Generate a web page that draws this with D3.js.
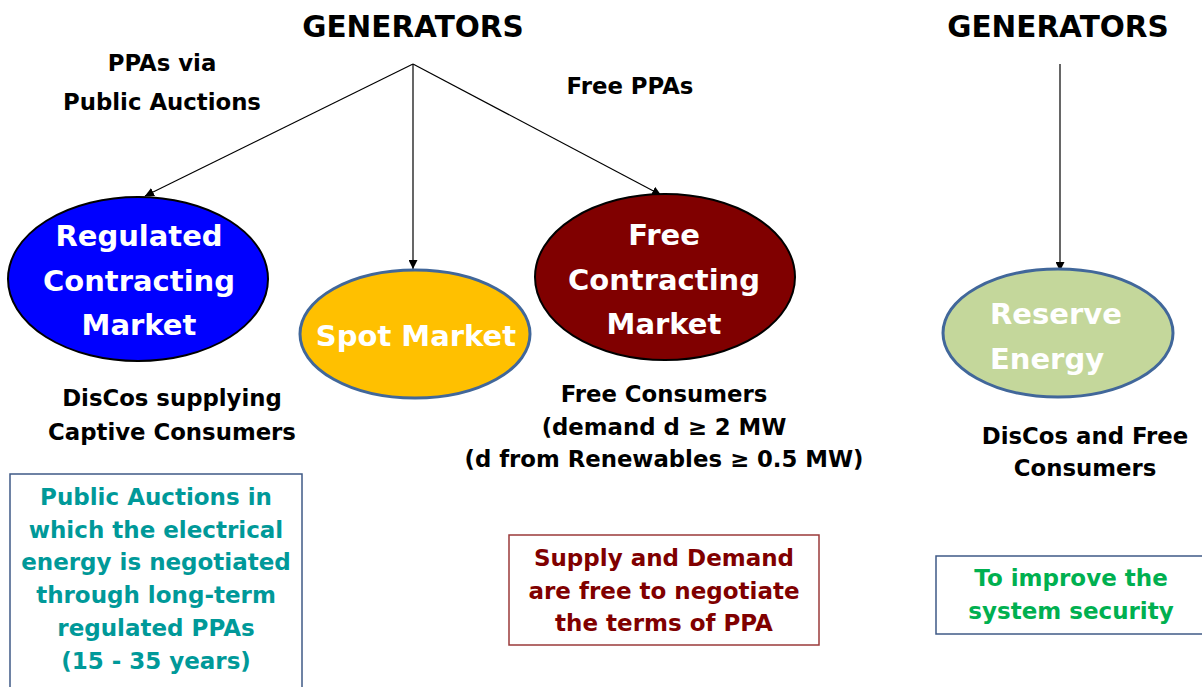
<!DOCTYPE html>
<html>
<head>
<meta charset="utf-8">
<script src="https://cdn.jsdelivr.net/npm/d3@7"></script>
<style>
  body { margin: 0; background: #fff; }
  text { font-family: "DejaVu Sans", Verdana, sans-serif; font-weight: bold; }
</style>
</head>
<body>
<div class="container"></div>
<script>
var w = 1202;
var h = 687;

// content
var headers = ["GENERATORS", "GENERATORS"];
var markets = [
  ["Regulated", "Contracting", "Market"],
  ["Spot Market"],
  ["Free", "Contracting", "Market"],
  ["Reserve", "Energy"]
];
var routes = [["PPAs via", "Public Auctions"], ["Free PPAs"]];
var buyers = [
  ["DisCos supplying", "Captive Consumers"],
  ["Free Consumers", "(demand d \u2265 2 MW", "(d from Renewables \u2265 0.5 MW)"],
  ["DisCos and Free", "Consumers"]
];
var notes = [
  ["Public Auctions in", "which the electrical", "energy is negotiated", "through long-term", "regulated PPAs", "(15 - 35 years)"],
  ["Supply and Demand", "are free to negotiate", "the terms of PPA"],
  ["To improve the", "system security"]
];

// layout
var headPos = [[413, 37], [1058, 37]];
var ell = [
  {cx: 138, cy: 279, rx: 130, ry: 82, fill: "#0000ff", stroke: "#000", sw: 2, ty: 246, tx: 139, anchor: "middle"},
  {cx: 415, cy: 334, rx: 115, ry: 64, fill: "#ffc000", stroke: "#41679a", sw: 3, ty: 346, tx: 416, anchor: "middle"},
  {cx: 665, cy: 277, rx: 130, ry: 83, fill: "#800000", stroke: "#000", sw: 2, ty: 245, tx: 664, anchor: "middle"},
  {cx: 1058, cy: 333, rx: 115, ry: 64, fill: "#c4d79b", stroke: "#41679a", sw: 3, ty: 324, tx: 990, anchor: "start"}
];
var arrows = [
  [413, 64, 145, 196], [413, 64, 413, 269], [413, 64, 661, 195], [1060, 64, 1060, 271]
];
var routePos = [[162, 71, 39], [630, 94, 39]];
var buyerPos = [[172, 406, 34], [664, 402, 32.5], [1085, 444, 32]];
var boxes = [
  {x: 10, y: 474, w: 292, h: 230, stroke: "#3f5a86", color: "#009999", tx: 156, ty: 505},
  {x: 509, y: 535, w: 310, h: 110, stroke: "#9a3a3a", color: "#800000", tx: 664, ty: 566},
  {x: 936, y: 556, w: 270, h: 78, stroke: "#3f5a86", color: "#00b050", tx: 1071, ty: 586}
];

var svg = d3.select(".container").append("svg")
  .attr("width", w).attr("height", h);

svg.append("defs").append("marker")
  .attr("id", "ah").attr("viewBox", "0 0 10 10")
  .attr("refX", 10).attr("refY", 5)
  .attr("markerWidth", 9).attr("markerHeight", 9)
  .attr("markerUnits", "userSpaceOnUse")
  .attr("orient", "auto")
  .append("path").attr("d", "M0,0L10,5L0,10z").attr("fill", "#000");

svg.selectAll("text.head").data(headers).enter().append("text")
  .attr("class", "head")
  .attr("x", (d, i) => headPos[i][0]).attr("y", (d, i) => headPos[i][1])
  .attr("text-anchor", "middle").attr("font-size", 29.5).attr("fill", "#000")
  .text(d => d);

svg.selectAll("line.arr").data(arrows).enter().append("line")
  .attr("x1", d => d[0]).attr("y1", d => d[1]).attr("x2", d => d[2]).attr("y2", d => d[3])
  .attr("stroke", "#000").attr("stroke-width", 1.2).attr("marker-end", "url(#ah)");

svg.selectAll("ellipse").data(ell).enter().append("ellipse")
  .attr("cx", d => d.cx).attr("cy", d => d.cy).attr("rx", d => d.rx).attr("ry", d => d.ry)
  .attr("fill", d => d.fill).attr("stroke", d => d.stroke).attr("stroke-width", d => d.sw);

markets.forEach(function(lines, i) {
  var e = ell[i];
  svg.append("text")
    .attr("text-anchor", e.anchor).attr("font-size", 29).attr("fill", "#fff")
    .selectAll("tspan").data(lines).enter().append("tspan")
    .attr("x", e.tx).attr("y", (d, j) => e.ty + j * 44.5)
    .text(d => d);
});

function block(lines, x, y, step, size, color) {
  svg.append("text")
    .attr("text-anchor", "middle").attr("font-size", size).attr("fill", color)
    .selectAll("tspan").data(lines).enter().append("tspan")
    .attr("x", x).attr("y", (d, j) => y + j * step)
    .text(d => d);
}

routes.forEach((r, i) => block(r, routePos[i][0], routePos[i][1], routePos[i][2], 22.8, "#000"));
buyers.forEach((b, i) => block(b, buyerPos[i][0], buyerPos[i][1], buyerPos[i][2], 22.8, "#000"));

svg.selectAll("rect.note").data(boxes).enter().append("rect")
  .attr("x", d => d.x).attr("y", d => d.y).attr("width", d => d.w).attr("height", d => d.h)
  .attr("fill", "none").attr("stroke", d => d.stroke).attr("stroke-width", 1.5);

notes.forEach((n, i) => block(n, boxes[i].tx, boxes[i].ty, 32.7, 23, boxes[i].color));
</script>
</body>
</html>
